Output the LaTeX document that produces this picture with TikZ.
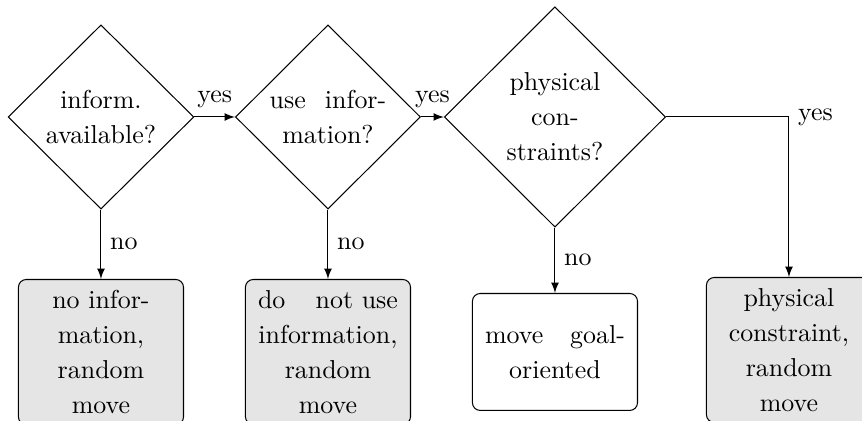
\documentclass[tikz,border=0pt]{standalone}
\usetikzlibrary{shapes.geometric,arrows}
\tikzset{
  decision/.style={draw, diamond, inner sep=0pt, text width=45pt, align=center},
  outcome/.style={draw, rounded corners=3pt, text width=54pt, minimum width=2.24cm, inner ysep=4.2pt, align=center},
  randommove/.style={outcome, fill=gray!20},
}
\newcommand{\spreadline}[1]{\makebox[\hsize]{#1}}

\begin{document}
\begin{tikzpicture}[font=\fontsize{10}{13.5}\selectfont]
	\useasboundingbox (0,0) rectangle (11.696,-5.712);
	\clip (0,0) rectangle (11.696,-5.712);

	\node[decision, minimum width=2.52cm, minimum height=2.5cm] (avail) at (1.37,-1.587) {inform.\\available?};
	\node[decision, minimum width=2.51cm, minimum height=2.5cm] (use) at (4.45,-1.587) {\spreadline{use\hfill infor-}\\mation?};
	\node[decision, minimum width=3cm, minimum height=2.99cm] (phys) at (7.53,-1.587) {physical\\con-\\straints?};

	\node[randommove, anchor=north] (noinfo) at (1.37,-3.785) {no infor-\\mation,\\random\\move};
	\node[randommove, anchor=north] (notuse) at (4.45,-3.785) {\spreadline{do\hfill not use}\\information,\\random\\move};
	\node[outcome, anchor=north, minimum height=1.587cm] (goal) at (7.53,-3.975) {\spreadline{move\hfill goal-}\\oriented};
	\node[randommove, anchor=north] (constr) at (10.705,-3.758) {physical\\constraint,\\random\\move};

	\begin{scope}[->,>=latex]
	    \draw (avail.east) -- node[midway,above]{yes} (use.west);
	    \draw (use.east) -- node[midway,above]{yes} (phys.west);
	    \draw (phys.east) -| node[pos=0.5,right]{yes} (constr.north);
	    \draw (avail.south) -- node[midway,right]{no} (noinfo.north);
	    \draw (use.south) -- node[midway,right]{no} (notuse.north);
	    \draw (phys.south) -- node[midway,right]{no} (goal.north);
	\end{scope}
\end{tikzpicture}
\end{document}
